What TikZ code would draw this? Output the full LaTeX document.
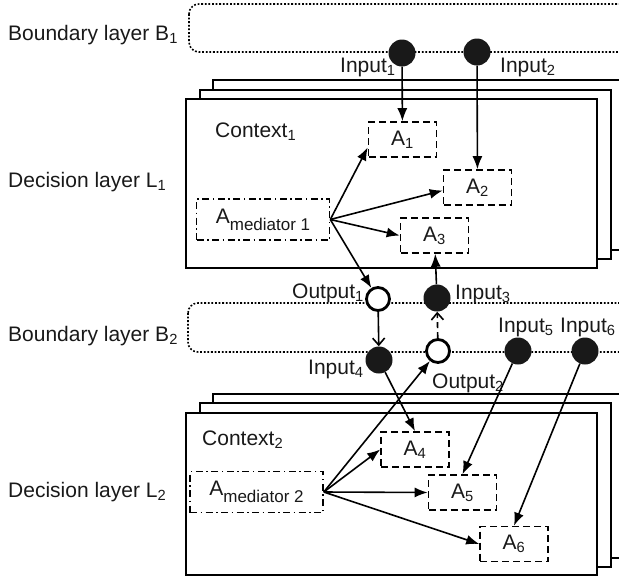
\documentclass[tikz,border=0pt]{standalone}
\usepackage{fontspec}
\setmainfont{Liberation Sans}
\usetikzlibrary{arrows.meta}

\newcommand{\medsub}[1]{\raisebox{-0.32em}{\fontsize{17}{19}\selectfont #1}}

\begin{document}
\begin{tikzpicture}[x=1pt,y=-1pt,
  every node/.style={font=\fontsize{21}{25}\selectfont, text=black!90},
  layer/.style={draw,line width=1.8pt,fill=white},
  bound/.style={draw,line width=1.6pt,dash pattern=on 1.8pt off 1.8pt,rounded corners=10pt},
  act/.style={draw,line width=1.6pt,dash pattern=on 7pt off 4pt,minimum width=68pt,minimum height=35pt,inner sep=0pt},
  med/.style={draw,line width=1.6pt,dash pattern=on 7pt off 3.5pt on 1.5pt off 3.5pt,minimum width=133pt,minimum height=41pt,inner sep=0pt},
  inport/.style={circle,fill=black!90,minimum size=27pt,inner sep=0pt},
  outport/.style={circle,draw,line width=2.8pt,fill=white,minimum size=23pt,inner sep=0pt},
  flow/.style={line width=1.6pt,-{Latex[length=13pt,width=10pt]}},
  pass/.style={line width=1.6pt,-{Straight Barb[length=7pt,width=12pt]}},
  lbl/.style={anchor=base west,inner sep=0pt}]
\useasboundingbox (0,0) rectangle (619,579);
\clip (0,0) rectangle (619,579);

% boundary layers
\draw[bound] (189,4) rectangle (660,52);
\draw[bound] (188,303) rectangle (660,352);

% decision layer 1
\draw[layer] (213,80) rectangle (660,250);
\draw[layer] (200,90) rectangle (611,259);
\draw[layer] (186,99) rectangle (597,268);

% decision layer 2
\draw[layer] (213,394) rectangle (660,558);
\draw[layer] (200,403) rectangle (611,567);
\draw[layer] (186,413) rectangle (597,575);

% layer names
\node[lbl] (lbB1) at (8,40) {Boundary layer B\textsubscript{1}};
\node[lbl] (lbL1) at (8,187) {Decision layer L\textsubscript{1}};
\node[lbl] (lbB2) at (8,341) {Boundary layer B\textsubscript{2}};
\node[lbl] (lbL2) at (8,497) {Decision layer L\textsubscript{2}};
\node[lbl] (ctx1) at (215,137) {Context\textsubscript{1}};
\node[lbl] (ctx2) at (202,445) {Context\textsubscript{2}};

% agents
\node[act] (a1) at (402.5,139.5) {A\textsubscript{1}};
\node[act] (a2) at (477.5,187.5) {A\textsubscript{2}};
\node[act] (a3) at (434.5,235.5) {A\textsubscript{3}};
\node[med] (m1) at (263,219.5) {A\medsub{mediator 1}};
\node[act] (a4) at (415,449.5) {A\textsubscript{4}};
\node[act] (a5) at (462.5,492.5) {A\textsubscript{5}};
\node[act] (a6) at (514,544) {A\textsubscript{6}};
\node[med] (m2) at (256.5,492) {A\medsub{mediator 2}};

% ports
\node[inport] (in1) at (402,53) {};
\node[inport] (in2) at (477,52) {};
\node[outport] (out1) at (378,299) {};
\node[inport] (in3) at (437,298) {};
\node[inport] (in4) at (379,360) {};
\node[outport] (out2) at (438,351) {};
\node[inport] (in5) at (518,351) {};
\node[inport] (in6) at (585,351) {};

\node[lbl] (tin1) at (340,72) {Input\textsubscript{1}};
\node[lbl] (tin2) at (500,72) {Input\textsubscript{2}};
\node[lbl] (tout1) at (292,298) {Output\textsubscript{1}};
\node[lbl] (tin3) at (455,299) {Input\textsubscript{3}};
\node[lbl] (tin5) at (498,332) {Input\textsubscript{5}};
\node[lbl] (tin6) at (560,332) {Input\textsubscript{6}};
\node[lbl] (tin4) at (308,374) {Input\textsubscript{4}};
\node[lbl] (tout2) at (432,388) {Output\textsubscript{2}};

% connectors layer 1
\draw[flow] (in1) -- (a1);
\draw[flow] (in2) -- (a2);
\draw[flow] (m1.east) -- ([yshift=-8pt]a1.west);
\draw[flow] (m1.east) -- ([yshift=-3pt]a2.west);
\draw[flow] (m1.east) -- (a3.west);
\draw[flow] (m1.east) -- (out1);
\draw[flow] (in3) -- (a3);

% across boundary layer 2
\draw[pass] (out1) -- (in4);
\draw[pass,dash pattern=on 6pt off 4pt] (out2) -- (in3);

% connectors layer 2
\draw[flow] (in4) -- (a4.north);
\draw[flow] (in5) -- (a5.north);
\draw[flow] (in6) -- (a6.north);
\draw[flow] (m2.east) -- (a4.west);
\draw[flow] (m2.east) -- (a5.west);
\draw[flow] (m2.east) -- (a6.west);
\draw[flow] (m2.east) -- (out2);
\end{tikzpicture}
\end{document}
